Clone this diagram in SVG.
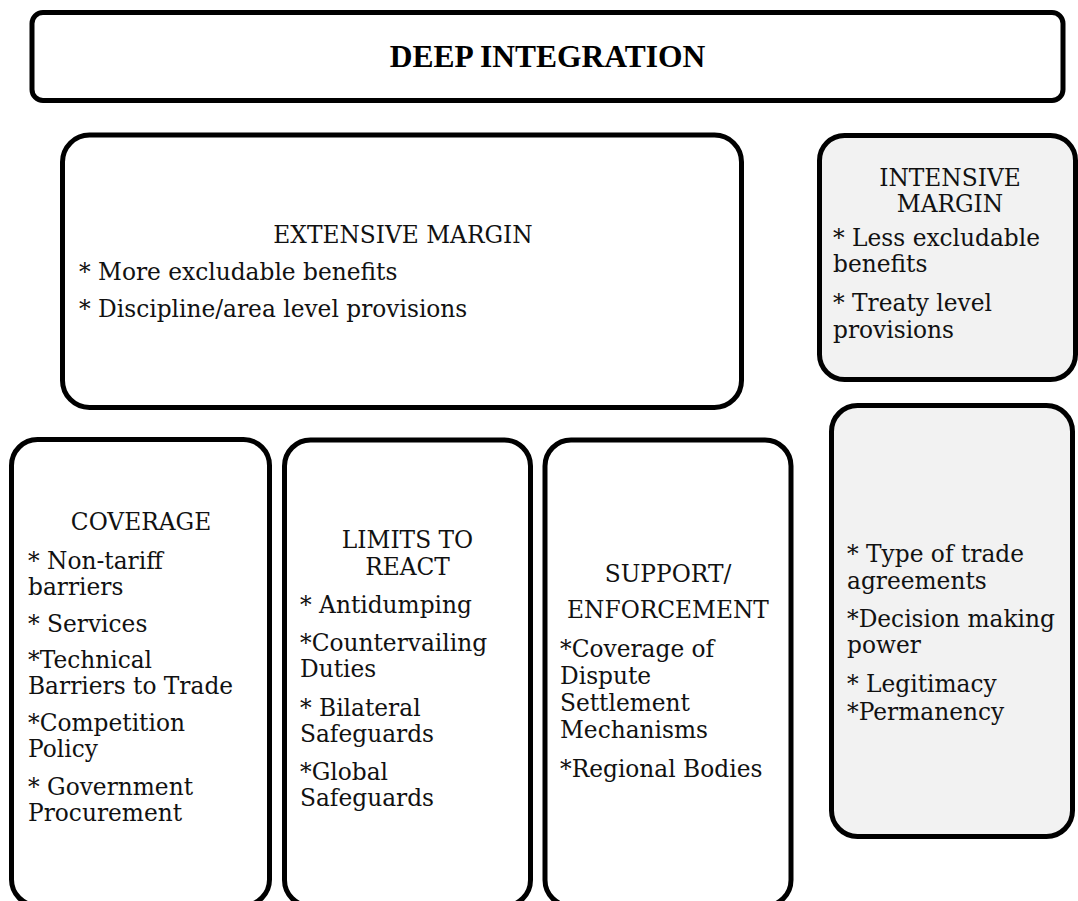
<svg xmlns="http://www.w3.org/2000/svg" width="1078" height="901" viewBox="0 0 1078 901">
<style>
.box{fill:#ffffff;stroke:#000;stroke-width:5}
.grey{fill:#f2f2f2;stroke:#000;stroke-width:5}
text{font-family:"DejaVu Serif","Liberation Serif",serif;font-size:23.3px;fill:#111}
.c{text-anchor:middle}
.title{font-family:"Liberation Serif",serif;font-weight:bold;font-size:31.5px;fill:#000}
</style>
<rect width="1078" height="901" fill="#fff"/>
<g id="connectors"></g>
<g id="deep-integration">
<rect class="box" x="32" y="12.5" width="1031" height="88" rx="11"/>
<text class="title c" x="547.5" y="67">DEEP INTEGRATION</text>
</g>
<g id="extensive-margin">
<rect class="box" x="62.5" y="135" width="679" height="272.5" rx="27"/>
<text class="c" x="403" y="243">EXTENSIVE MARGIN</text>
<text x="79" y="280">* More excludable benefits</text>
<text x="79" y="317">* Discipline/area level provisions</text>
</g>
<g id="intensive-margin">
<rect class="grey" x="819.5" y="135.5" width="256" height="244" rx="25"/>
<text class="c" x="950" y="186">INTENSIVE</text>
<text class="c" x="950" y="212">MARGIN</text>
<text x="833" y="246">* Less excludable</text>
<text x="833" y="272">benefits</text>
<text x="833" y="311">* Treaty level</text>
<text x="833" y="338">provisions</text>
</g>
<g id="coverage">
<rect class="box" x="11.5" y="439.5" width="258" height="466" rx="26"/>
<text class="c" x="141" y="530">COVERAGE</text>
<text x="28" y="569">* Non-tariff</text>
<text x="28" y="595">barriers</text>
<text x="28" y="632">* Services</text>
<text x="28" y="668">*Technical</text>
<text x="28" y="694">Barriers to Trade</text>
<text x="28" y="731">*Competition</text>
<text x="28" y="757">Policy</text>
<text x="28" y="795">* Government</text>
<text x="28" y="821">Procurement</text>
</g>
<g id="limits-to-react">
<rect class="box" x="284.5" y="440" width="246" height="466" rx="26"/>
<text class="c" x="407.5" y="548">LIMITS TO</text>
<text class="c" x="407.5" y="575">REACT</text>
<text x="300" y="613">* Antidumping</text>
<text x="300" y="651">*Countervailing</text>
<text x="300" y="677">Duties</text>
<text x="300" y="716">* Bilateral</text>
<text x="300" y="742">Safeguards</text>
<text x="300" y="780">*Global</text>
<text x="300" y="806">Safeguards</text>
</g>
<g id="support-enforcement">
<rect class="box" x="545" y="440" width="246" height="466" rx="26"/>
<text class="c" x="668" y="582">SUPPORT/</text>
<text class="c" x="668" y="618">ENFORCEMENT</text>
<text x="560" y="657">*Coverage of</text>
<text x="560" y="684">Dispute</text>
<text x="560" y="711">Settlement</text>
<text x="560" y="738">Mechanisms</text>
<text x="560" y="777">*Regional Bodies</text>
</g>
<g id="trade-agreements">
<rect class="grey" x="831.5" y="405.5" width="241" height="431" rx="26"/>
<text x="847" y="562">* Type of trade</text>
<text x="847" y="589">agreements</text>
<text x="847" y="627">*Decision making</text>
<text x="847" y="653">power</text>
<text x="847" y="692">* Legitimacy</text>
<text x="847" y="720">*Permanency</text>
</g>
</svg>
